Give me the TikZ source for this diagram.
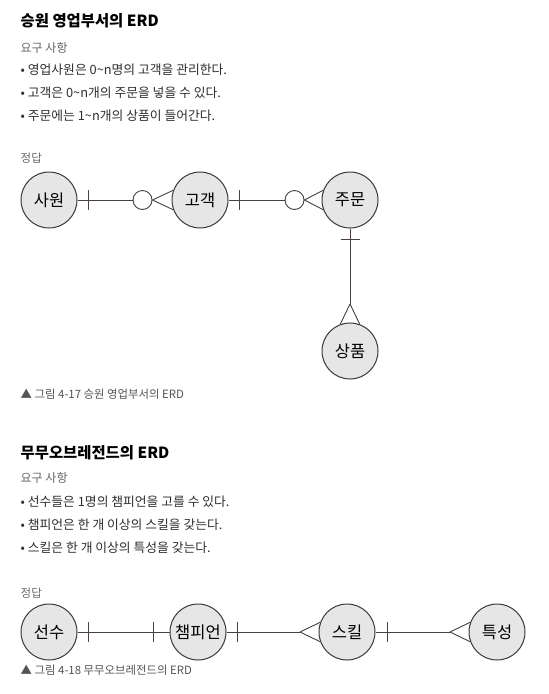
\documentclass[tikz,border=0pt]{standalone}
\usepackage{fontspec}
\setmainfont{Noto Sans CJK KR}
\usetikzlibrary{calc}
\definecolor{linec}{HTML}{4A4040}
\definecolor{entb}{HTML}{3A3A3A}
\definecolor{entf}{HTML}{E6E6E6}
\definecolor{graytxt}{HTML}{666666}
\definecolor{bodytxt}{HTML}{2E2E2E}
\definecolor{captxt}{HTML}{555555}
\tikzset{
  ent/.style={circle, draw=entb, fill=entf, line width=1pt, minimum size=56pt, inner sep=0pt, font=\fontsize{16.5}{16.5}\selectfont},
  conn/.style={draw=linec, line width=0.9pt},
  optc/.style={circle, draw=linec, fill=white, line width=0.9pt, minimum size=19pt, inner sep=0pt},
  ttl/.style={anchor=west, inner sep=0pt, font=\bfseries\fontsize{15.4}{15.4}\selectfont},
  req/.style={anchor=west, inner sep=0pt, text=graytxt, font=\fontsize{12}{12}\selectfont},
  bul/.style={anchor=west, inner sep=0pt, text=bodytxt, font=\fontsize{12.8}{12.8}\selectfont},
  ans/.style={anchor=west, inner sep=0pt, text=graytxt, font=\fontsize{11.5}{11.5}\selectfont},
  captn/.style={anchor=west, inner sep=0pt, text=captxt, font=\fontsize{11.4}{11.4}\selectfont}
}
\begin{document}
\begin{tikzpicture}[x=1pt,y=-1pt]
\useasboundingbox (0,0) rectangle (549,694);
\fill[white] (0,0) rectangle (549,694);

% ---------- section 1 ----------
\node[ttl] (t1) at (20.5,21) {승원 영업부서의 ERD};
\node[req] (r1) at (20.5,48) {요구 사항};
\node[bul] (b11) at (20.5,70) {• 영업사원은 0\textasciitilde n명의 고객을 관리한다.};
\node[bul] (b12) at (20.5,92.5) {• 고객은 0\textasciitilde n개의 주문을 넣을 수 있다.};
\node[bul] (b13) at (20.5,115.5) {• 주문에는 1\textasciitilde n개의 상품이 들어간다.};
\node[ans] (a1) at (20.5,158) {정답};

\node[ent] (sawon) at (49,200) {사원};
\node[ent] (gogaek) at (200,200) {고객};
\node[ent] (jumun) at (350,200) {주문};
\node[ent] (sangpum) at (350,351) {상품};

\node[optc] (o1) at (142.5,200) {};
\node[optc] (o2) at (294.5,200) {};
\coordinate (f3) at (350,304);

% 사원 - 고객
\draw[conn] (sawon) -- (o1);
\draw[conn] ($(sawon.east)+(10.5,-10)$) -- ++(0,20);
\draw[conn] (o1.east) -- (gogaek.160);
\draw[conn] (o1.east) -- (gogaek.200);
% 고객 - 주문
\draw[conn] (gogaek) -- (o2);
\draw[conn] ($(gogaek.east)+(10.5,-10)$) -- ++(0,20);
\draw[conn] (o2.east) -- (jumun.160);
\draw[conn] (o2.east) -- (jumun.200);
% 주문 - 상품
\draw[conn] (jumun) -- (f3);
\draw[conn] ($(jumun.south)+(-9.5,11)$) -- ++(19,0);
\draw[conn] (f3) -- (sangpum.110);
\draw[conn] (f3) -- (sangpum.70);

\node[captn] (c1) at (20.5,394) {▲ 그림 4-17 승원 영업부서의 ERD};

% ---------- section 2 ----------
\node[ttl] (t2) at (20.5,453) {무무오브레전드의 ERD};
\node[req] (r2) at (20.5,478) {요구 사항};
\node[bul] (b21) at (20.5,502) {• 선수들은 1명의 챔피언을 고를 수 있다.};
\node[bul] (b22) at (20.5,525) {• 챔피언은 한 개 이상의 스킬을 갖는다.};
\node[bul] (b23) at (20.5,548) {• 스킬은 한 개 이상의 특성을 갖는다.};
\node[ans] (a2) at (20.5,593) {정답};

\node[ent] (seonsu) at (49,632) {선수};
\node[ent] (champ) at (198,632) {챔피언};
\node[ent] (skill) at (347,632) {스킬};
\node[ent] (trait) at (497,632) {특성};

\coordinate (f4) at (300,632);
\coordinate (f5) at (450,632);

% 선수 - 챔피언
\draw[conn] (seonsu) -- (champ);
\draw[conn] ($(seonsu.east)+(11,-10)$) -- ++(0,20);
\draw[conn] ($(champ.west)+(-16,-10)$) -- ++(0,20);
% 챔피언 - 스킬
\draw[conn] (champ) -- (f4);
\draw[conn] ($(champ.east)+(11,-10)$) -- ++(0,20);
\draw[conn] (f4) -- (skill.160);
\draw[conn] (f4) -- (skill.200);
% 스킬 - 특성
\draw[conn] (skill) -- (f5);
\draw[conn] ($(skill.east)+(12,-10)$) -- ++(0,20);
\draw[conn] (f5) -- (trait.160);
\draw[conn] (f5) -- (trait.200);

\node[captn] (c2) at (20.5,670) {▲ 그림 4-18 무무오브레전드의 ERD};
\end{tikzpicture}
\end{document}
